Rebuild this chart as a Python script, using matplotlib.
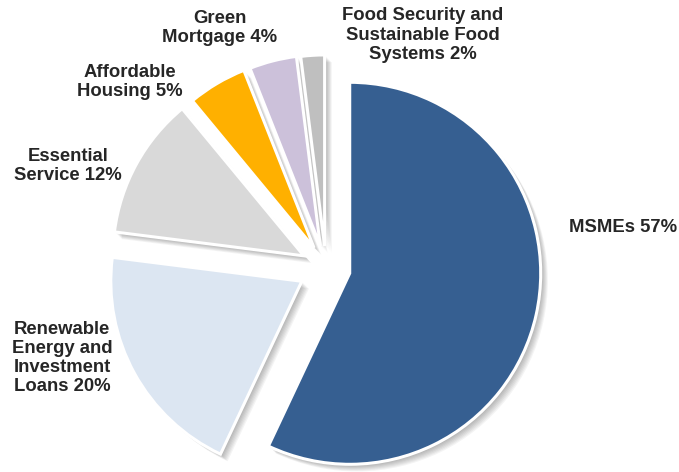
import matplotlib
matplotlib.use("Agg")
import matplotlib.pyplot as plt
import matplotlib.transforms as mtransforms

labels = ["MSMEs 57%",
          "Renewable\nEnergy and\nInvestment\nLoans 20%",
          "Essential\nService 12%",
          "Affordable\nHousing 5%",
          "Green\nMortgage 4%",
          "Food Security and\nSustainable Food\nSystems 2%"]
values = [57, 20, 12, 5, 4, 2]
colors = ["#365F91", "#DCE6F2", "#D9D9D9", "#FFB000", "#CCC1DA", "#BFBFBF"]
explode_px = [24.3, 27.6, 25.2, 23.3, 22.8, 22.1]

W, H = 679, 472
fig = plt.figure(figsize=(W / 100, H / 100), dpi=100)
ax = fig.add_axes([0, 0, 1, 1])

center = (326, H - 268)
R = 191

# soft shadow layers
for k in range(1, 9):
    wedges, _ = ax.pie(values, explode=explode_px, startangle=90, counterclock=False,
                       radius=R, center=center, colors=["black"] * len(values),
                       wedgeprops=dict(linewidth=0, alpha=0.045))
    off = mtransforms.ScaledTranslation(k * 0.9 / 100, -k * 0.9 / 100, fig.dpi_scale_trans)
    for w in wedges:
        w.set_transform(ax.transData + off)

wedges, _ = ax.pie(values, explode=explode_px, startangle=90, counterclock=False,
                   radius=R, center=center, colors=colors,
                   wedgeprops=dict(edgecolor="white", linewidth=2.2))

label_pos = [(623, 228), (62, 358), (68, 166), (130, 82), (220, 28), (423, 35)]
for lab, (x, y) in zip(labels, label_pos):
    ax.text(x, H - y, lab, ha="center", va="center", multialignment="center",
            fontsize=13.3, fontweight="bold", color="#262626",
            family=["Liberation Sans", "DejaVu Sans"], linespacing=1.17)

ax.set_xlim(0, W)
ax.set_ylim(0, H)
ax.set_aspect("equal")
ax.axis("off")
fig.savefig("out.png", dpi=100)
